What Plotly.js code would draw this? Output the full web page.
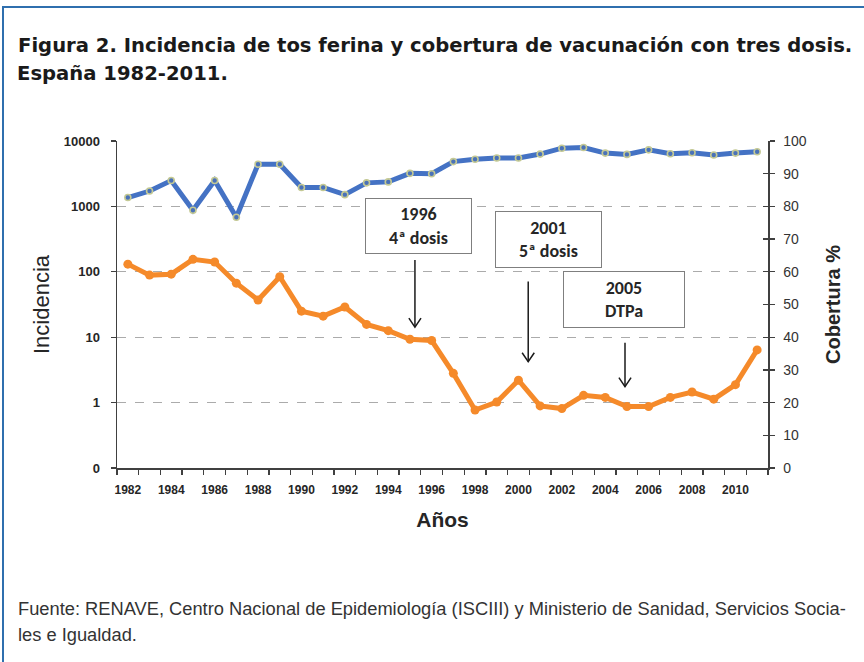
<!DOCTYPE html>
<html>
<head>
<meta charset="utf-8">
<script src="https://cdn.plot.ly/plotly-3.0.1.min.js"></script>
<style>
  html, body { margin: 0; padding: 0; background: #ffffff; }
  #wrap { position: relative; width: 864px; height: 662px; overflow: hidden; }
  #frame { position: absolute; left: 2px; top: 6px; width: 900px; height: 700px;
           border-top: 2px solid #2f6fae; border-left: 2px solid #2f6fae; }
  #chart { position: absolute; left: 0; top: 0; width: 864px; height: 662px; }
</style>
</head>
<body>
<div id="wrap">
  <div id="frame"></div>
  <div id="chart"></div>
</div>
<script>
// ---- data ----
const years = [1982,1983,1984,1985,1986,1987,1988,1989,1990,1991,1992,1993,1994,1995,1996,
               1997,1998,1999,2000,2001,2002,2003,2004,2005,2006,2007,2008,2009,2010,2011];
const incidencia = [131, 89, 92, 155, 141, 67, 37, 84, 25, 21, 29, 15.7, 12.6, 9.3, 8.9,
                    2.8, 0.77, 1.02, 2.2, 0.89, 0.81, 1.29, 1.2, 0.87, 0.87, 1.2, 1.45, 1.13, 1.88, 6.4];
const cobertura = [82.7, 84.7, 87.9, 78.8, 87.9, 76.7, 92.9, 92.9, 85.8, 85.8, 83.6, 87.2, 87.5, 90.1, 90.0,
                   93.7, 94.4, 94.8, 94.8, 96.0, 97.8, 98.0, 96.3, 95.9, 97.3, 96.1, 96.4, 95.7, 96.3, 96.7];
const yearLabels = [1982,1984,1986,1988,1990,1992,1994,1996,1998,2000,2002,2004,2006,2008,2010];
const leftTickVals = [0.1, 1, 10, 100, 1000, 10000];
const leftTickText = ['0', '1', '10', '100', '1000', '10000'];
const hitos = [
  {anio: 1995.39, pos: 74.0, texto: '<b>1996</b><br><b>4ª dosis</b>', w: 103, h: 52},
  {anio: 2001.38, pos: 69.9, texto: '<b>2001</b><br><b>5ª dosis</b>', w: 103, h: 53},
  {anio: 2004.86, pos: 51.5, texto: '<b>2005</b><br><b>DTPa</b>', w: 118, h: 53}
];
const flechas = [
  {anio: 1995.23, desde: 63.6, hasta: 43.1},
  {anio: 2000.45, desde: 57.0, hasta: 32.5},
  {anio: 2004.91, desde: 38.3, hasta: 24.9}
];

const tickEdges = years.map(y => y - 0.5).concat([years[years.length - 1] + 0.5]);
const FONT = '"Liberation Sans", Arial, sans-serif';
const HEAVY = '"DejaVu Sans", "Liberation Sans", Arial, sans-serif';
const BOXFONT = 'Carlito, Calibri, "Open Sans", sans-serif';

const traces = [
  {
    x: years, y: incidencia, xaxis: 'x', yaxis: 'y', type: 'scatter', mode: 'lines+markers',
    name: 'Incidencia',
    line: {color: '#f58a2a', width: 5},
    marker: {color: '#f58a2a', size: 9},
    hoverinfo: 'x+y'
  },
  {
    x: years, y: cobertura, xaxis: 'x', yaxis: 'y2', type: 'scatter', mode: 'lines+markers',
    name: 'Cobertura',
    line: {color: '#4472c4', width: 5},
    marker: {color: '#4a72b8', size: 6, line: {color: '#c4c994', width: 1.6}},
    hoverinfo: 'x+y'
  },
  // helper invisible traces so overlay axes are built
  {x: [years[0]], y: [1], xaxis: 'x2', yaxis: 'y', mode: 'markers', marker: {opacity: 0},
   hoverinfo: 'skip', showlegend: false},
  {x: [years[0]], y: [50], xaxis: 'x', yaxis: 'y3', mode: 'markers', marker: {opacity: 0},
   hoverinfo: 'skip', showlegend: false}
];

const shapes = [];
flechas.forEach(f => {
  shapes.push({type: 'line', xref: 'x', yref: 'y2', x0: f.anio, x1: f.anio, y0: f.desde, y1: f.hasta,
               line: {color: '#1a1a1a', width: 1.5}});
  shapes.push({type: 'path', xref: 'x', yref: 'y2',
               path: `M ${f.anio - 0.28},${f.hasta + 2.75} L ${f.anio},${f.hasta} L ${f.anio + 0.28},${f.hasta + 2.75}`,
               line: {color: '#1a1a1a', width: 1.5}});
});

const annotations = [];
hitos.forEach(h => {
  annotations.push({
    xref: 'x', yref: 'y2', x: h.anio, y: h.pos, text: h.texto, showarrow: false,
    width: h.w, height: h.h, align: 'center', valign: 'middle',
    bordercolor: '#7f7f7f', borderwidth: 1, bgcolor: '#ffffff',
    font: {family: BOXFONT, size: 18, color: '#262626'}
  });
});
// second title line
annotations.push({xref: 'paper', yref: 'paper', x: (15 - 117) / 651, y: (468 - 74) / 327,
  xanchor: 'left', yanchor: 'middle', showarrow: false, text: '<b>España 1982-2011.</b>',
  font: {family: HEAVY, size: 19.6, color: '#1a1a1a'}});
// footer
annotations.push({xref: 'paper', yref: 'paper', x: (16 - 117) / 651, y: (468 - 608) / 327,
  xanchor: 'left', yanchor: 'middle', showarrow: false,
  text: 'Fuente: RENAVE, Centro Nacional de Epidemiología (ISCIII) y Ministerio de Sanidad, Servicios Socia-',
  font: {family: FONT, size: 18.3, color: '#333333'}});
annotations.push({xref: 'paper', yref: 'paper', x: (16 - 117) / 651, y: (468 - 634) / 327,
  xanchor: 'left', yanchor: 'middle', showarrow: false, text: 'les e Igualdad.',
  font: {family: FONT, size: 18.3, color: '#333333'}});

const layout = {
  width: 864, height: 662,
  margin: {l: 117, r: 96, t: 141, b: 194},
  paper_bgcolor: 'rgba(0,0,0,0)', plot_bgcolor: 'rgba(0,0,0,0)',
  showlegend: false,
  font: {family: FONT, color: '#262626'},
  title: {
    text: '<b>Figura 2. Incidencia de tos ferina y cobertura de vacunación con tres dosis.</b>',
    xref: 'container', yref: 'container', x: 18 / 864, xanchor: 'left',
    y: 1 - 45 / 662, yanchor: 'middle',
    font: {family: HEAVY, size: 19.6, color: '#1a1a1a'}
  },
  xaxis: {
    range: [1981.5, 2011.5], tickmode: 'array', tickvals: tickEdges, ticktext: tickEdges.map(() => ''),
    ticks: 'outside', ticklen: 5, tickcolor: '#404040', tickwidth: 1.3,
    showline: true, linecolor: '#404040', linewidth: 1.5, showgrid: false, zeroline: false,
    title: {text: '<b>Años</b>', font: {family: FONT, size: 21, color: '#262626'}, standoff: 36}
  },
  xaxis2: {
    overlaying: 'x', anchor: 'y', side: 'bottom', range: [1981.5, 2011.5],
    tickmode: 'array', tickvals: yearLabels, ticks: '', showline: false, showgrid: false, zeroline: false,
    tickfont: {family: FONT, size: 12, color: '#262626', weight: 'bold'}, ticklabelstandoff: 13
  },
  yaxis: {
    type: 'log', range: [-1, 4], tickmode: 'array', tickvals: leftTickVals, ticktext: leftTickText,
    ticks: 'outside', ticklen: 5, tickcolor: '#404040', tickwidth: 1.3,
    showline: true, linecolor: '#404040', linewidth: 1.5,
    showgrid: true, gridcolor: '#ababab', griddash: 'dash', gridwidth: 1, zeroline: false,
    tickfont: {family: FONT, size: 13, color: '#262626', weight: 'bold'}, ticklabelstandoff: 8,
    title: {text: 'Incidencia', font: {family: FONT, size: 22, color: '#262626'}, standoff: 8}
  },
  yaxis2: {
    overlaying: 'y', side: 'right', anchor: 'x', range: [0, 100], tickmode: 'linear', tick0: 0, dtick: 10,
    ticks: 'outside', ticklen: 5, tickcolor: '#404040', tickwidth: 1.3,
    showline: true, linecolor: '#404040', linewidth: 1.5, showgrid: false, zeroline: false,
    tickfont: {family: FONT, size: 14, color: '#333333'}, ticklabelstandoff: 6,
    title: {text: '<b>Cobertura %</b>', font: {family: FONT, size: 20, color: '#262626'}, standoff: 20}
  },
  yaxis3: {
    overlaying: 'y', side: 'right', anchor: 'x', range: [0, 100], tickmode: 'linear', tick0: 0, dtick: 10,
    ticks: 'inside', ticklen: 5, tickcolor: '#404040', tickwidth: 1.3,
    showticklabels: false, showline: false, showgrid: false, zeroline: false
  },
  shapes: shapes,
  annotations: annotations
};

Plotly.newPlot('chart', traces, layout, {displayModeBar: false, staticPlot: true});
</script>
</body>
</html>
